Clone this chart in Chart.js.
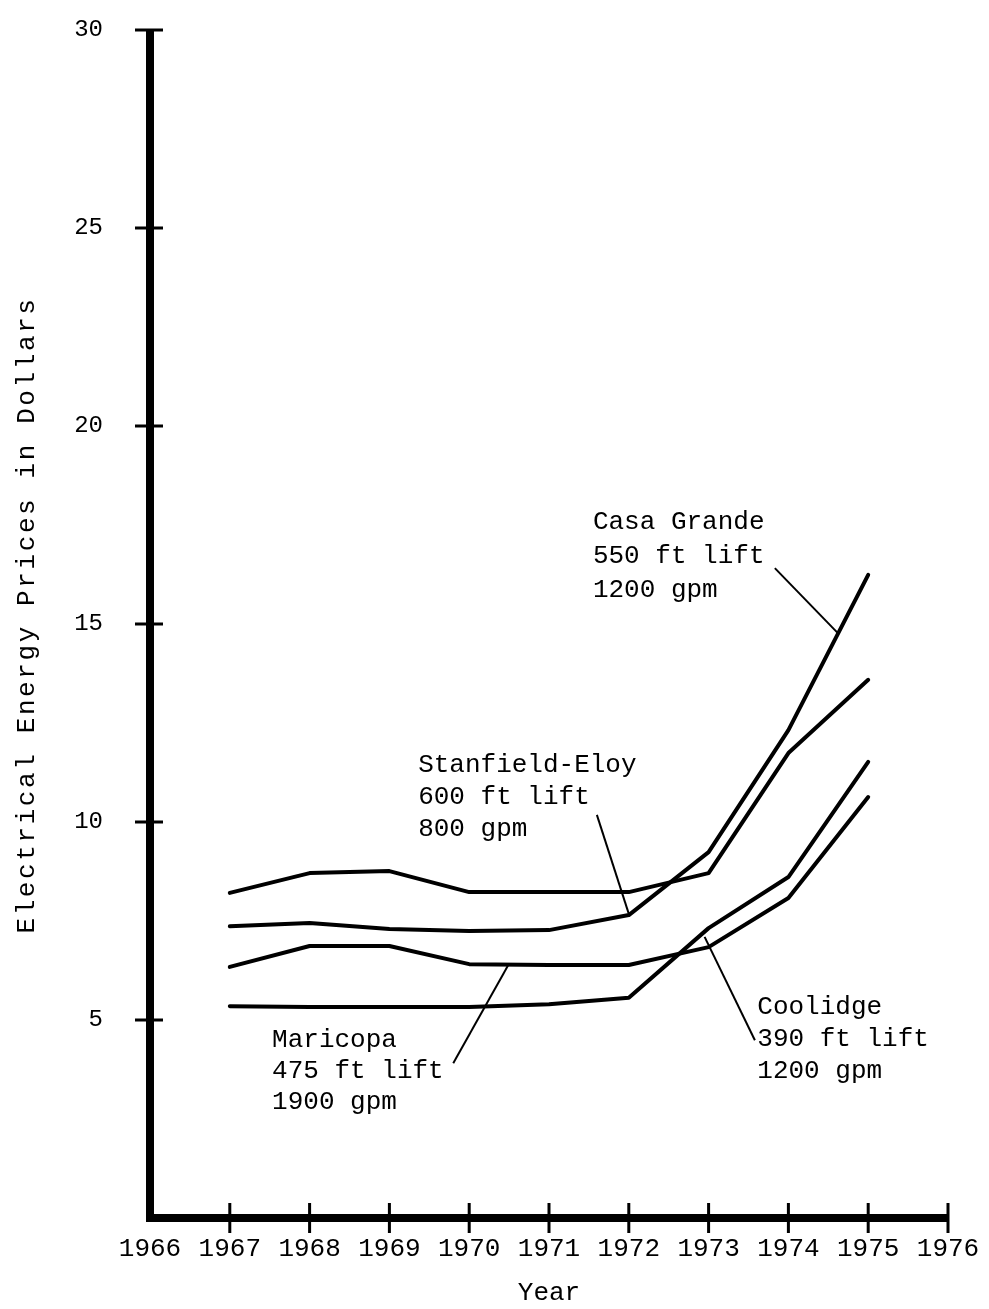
<!DOCTYPE html>
<html>
<head>
<meta charset="utf-8">
<title>Electrical Energy Prices</title>
<script src="https://cdn.jsdelivr.net/npm/chart.js@4.4.0/dist/chart.umd.min.js"></script>
<style>
  html, body { margin: 0; padding: 0; background: #ffffff; }
  #wrap { width: 989px; height: 1309px; position: relative; }
</style>
</head>
<body>
<div id="wrap"><canvas id="chart" width="989" height="1309"></canvas></div>
<script>
// Yearly electrical energy price per pumping site, dollars
const years = [1967, 1968, 1969, 1970, 1971, 1972, 1973, 1974, 1975];
const casaGrande    = [8.21, 8.71, 8.76, 8.23, 8.23, 8.23, 8.71, 11.74, 13.59];
const stanfieldEloy = [7.37, 7.45, 7.30, 7.25, 7.27, 7.65, 9.24, 12.32, 16.24];
const maricopa      = [6.34, 6.87, 6.87, 6.41, 6.39, 6.39, 6.84, 8.08, 10.63];
const coolidge      = [5.35, 5.33, 5.33, 5.33, 5.40, 5.56, 7.32, 8.61, 11.52];

// Axis tick labels
const yearTicks = [1966, 1967, 1968, 1969, 1970, 1971, 1972, 1973, 1974, 1975, 1976];
const priceTicks = [5, 10, 15, 20, 25, 30];

const xTitle = 'Year';
const yTitle = 'Electrical Energy Prices in Dollars';

// Site captions with leader lines, anchored in data units (year, dollars)
const notes = [
  { lines: ['Casa Grande', '550 ft lift', '1200 gpm'], at: [1971.55, 17.58], gap: 34,
    from: [1973.83, 16.41], to: [1974.62, 14.77] },
  { lines: ['Stanfield-Eloy', '600 ft lift', '800 gpm'], at: [1969.36, 11.44], gap: 32,
    from: [1971.60, 10.18], to: [1972.00, 7.68] },
  { lines: ['Maricopa', '475 ft lift', '1900 gpm'], at: [1967.53, 4.49], gap: 31,
    from: [1969.80, 3.91], to: [1970.49, 6.39] },
  { lines: ['Coolidge', '390 ft lift', '1200 gpm'], at: [1973.61, 5.33], gap: 32,
    from: [1973.58, 4.49], to: [1972.95, 7.10] }
];

const FONT = "'Liberation Mono', 'DejaVu Sans Mono', monospace";

const toPoints = arr => years.map((yr, i) => ({ x: yr, y: arr[i] }));

// Heavy axes with ticks crossing both sides of the line
const axesPlugin = {
  id: 'heavyAxes',
  afterDatasetsDraw(chart) {
    const { ctx, scales: { x, y } } = chart;
    const x0 = x.getPixelForValue(yearTicks[0]);
    const x1 = x.getPixelForValue(yearTicks[yearTicks.length - 1]);
    const y0 = y.getPixelForValue(0);
    const y1 = y.getPixelForValue(priceTicks[priceTicks.length - 1]);
    ctx.save();
    ctx.strokeStyle = '#000';
    ctx.lineWidth = 8;
    ctx.lineJoin = 'miter';
    ctx.lineCap = 'butt';
    ctx.beginPath();
    ctx.moveTo(x0, y1);
    ctx.lineTo(x0, y0);
    ctx.lineTo(x1, y0);
    ctx.stroke();
    ctx.lineWidth = 3;
    ctx.beginPath();
    priceTicks.forEach(v => {
      const py = y.getPixelForValue(v);
      ctx.moveTo(x0 - 15, py);
      ctx.lineTo(x0 + 13, py);
    });
    yearTicks.slice(1).forEach(v => {
      const px = x.getPixelForValue(v);
      ctx.moveTo(px, y0 - 15);
      ctx.lineTo(px, y0 + 15);
    });
    ctx.stroke();
    ctx.restore();
  }
};

// Rotated, letter-spaced y axis title
const yTitlePlugin = {
  id: 'yTitle',
  afterDraw(chart) {
    const { ctx, chartArea } = chart;
    ctx.save();
    ctx.translate(27, (chartArea.top + chartArea.bottom) / 2 - 9);
    ctx.rotate(-Math.PI / 2);
    ctx.font = '26px ' + FONT;
    if ('letterSpacing' in ctx) ctx.letterSpacing = '2.6px';
    ctx.fillStyle = '#000';
    ctx.textAlign = 'center';
    ctx.textBaseline = 'middle';
    ctx.fillText(yTitle, 0, 0);
    ctx.restore();
  }
};

// Site captions and their leader lines
const notesPlugin = {
  id: 'siteNotes',
  afterDraw(chart) {
    const { ctx, scales: { x, y } } = chart;
    ctx.save();
    ctx.fillStyle = '#000';
    ctx.strokeStyle = '#000';
    ctx.font = '26px ' + FONT;
    ctx.textAlign = 'left';
    ctx.textBaseline = 'middle';
    notes.forEach(n => {
      const tx = x.getPixelForValue(n.at[0]);
      const ty = y.getPixelForValue(n.at[1]);
      n.lines.forEach((t, i) => ctx.fillText(t, tx, ty + i * n.gap));
      ctx.lineWidth = 2;
      ctx.beginPath();
      ctx.moveTo(x.getPixelForValue(n.from[0]), y.getPixelForValue(n.from[1]));
      ctx.lineTo(x.getPixelForValue(n.to[0]), y.getPixelForValue(n.to[1]));
      ctx.stroke();
    });
    ctx.restore();
  }
};

const lineStyle = {
  borderColor: '#000',
  borderWidth: 4,
  pointRadius: 0,
  tension: 0,
  borderCapStyle: 'round',
  borderJoinStyle: 'round',
  fill: false
};

// Invisible tick marks set the gap between axis and labels
const hiddenGrid = len => ({
  display: true,
  drawOnChartArea: false,
  drawTicks: true,
  tickLength: len,
  color: 'rgba(0,0,0,0)'
});

new Chart(document.getElementById('chart'), {
  type: 'line',
  data: {
    datasets: [
      { label: 'Casa Grande', data: toPoints(casaGrande), ...lineStyle },
      { label: 'Stanfield-Eloy', data: toPoints(stanfieldEloy), ...lineStyle },
      { label: 'Maricopa', data: toPoints(maricopa), ...lineStyle },
      { label: 'Coolidge', data: toPoints(coolidge), ...lineStyle }
    ]
  },
  options: {
    responsive: false,
    animation: false,
    devicePixelRatio: 1,
    layout: { padding: { top: 30, right: 41, left: 0, bottom: 0 } },
    plugins: { legend: { display: false }, tooltip: { enabled: false } },
    scales: {
      x: {
        type: 'linear',
        min: yearTicks[0],
        max: yearTicks[yearTicks.length - 1],
        afterFit(s) { s.height = 91; },
        afterBuildTicks(s) { s.ticks = yearTicks.map(v => ({ value: v })); },
        grid: hiddenGrid(16),
        border: { display: false },
        ticks: {
          color: '#000',
          font: { family: FONT, size: 26 },
          padding: 0,
          maxRotation: 0,
          autoSkip: false,
          callback: v => String(v)
        },
        title: { display: true, text: xTitle, color: '#000', font: { family: FONT, size: 26 }, padding: 0 }
      },
      y: {
        type: 'linear',
        min: 0,
        max: priceTicks[priceTicks.length - 1],
        afterFit(s) { s.width = 150; },
        afterBuildTicks(s) { s.ticks = priceTicks.map(v => ({ value: v })); },
        grid: hiddenGrid(47),
        border: { display: false },
        ticks: {
          color: '#000',
          font: { family: FONT, size: 24 },
          padding: 0,
          callback: v => String(v)
        }
      }
    }
  },
  plugins: [axesPlugin, yTitlePlugin, notesPlugin]
});
</script>
</body>
</html>
